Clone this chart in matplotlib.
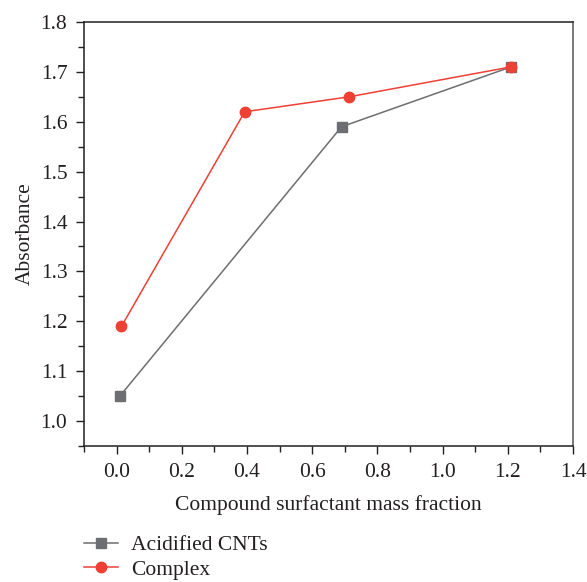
import matplotlib
matplotlib.use("Agg")
import matplotlib.pyplot as plt
from matplotlib.ticker import MultipleLocator

acid_x = [0.01, 0.69, 1.21]
acid_y = [1.05, 1.59, 1.71]
comp_x = [0.015, 0.393, 0.713, 1.21]
comp_y = [1.19, 1.62, 1.65, 1.71]

plt.rcParams['font.family'] = ['Liberation Serif', 'DejaVu Serif']
fs = 15.5

fig = plt.figure(figsize=(5.87, 5.82), dpi=100)
ax = fig.add_axes([84/587, 1-446/582, (573-84)/587, (446-22)/582])

gray = '#6d6e71'
red = '#ee4035'
l1, = ax.plot(acid_x, acid_y, color=gray, marker='s', markersize=6.5, lw=1.1, label='Acidified CNTs')
l2, = ax.plot(comp_x, comp_y, color=red, marker='o', markersize=7.5, lw=1.1, label='Complex')

ax.set_xlim(-0.1, 1.4)
ax.set_ylim(0.95, 1.8)
ax.xaxis.set_minor_locator(MultipleLocator(0.1))
ax.yaxis.set_minor_locator(MultipleLocator(0.05))
ax.set_xticks([0.0, 0.2, 0.4, 0.6, 0.8, 1.0, 1.2, 1.4])
ax.set_xticklabels(['0.0', '0.2', '0.4', '0.6', '0.8', '1.0', '1.2', '1.4'])
ax.set_yticks([1.0, 1.1, 1.2, 1.3, 1.4, 1.5, 1.6, 1.7, 1.8])
ax.set_yticklabels(['1.0', '1.1', '1.2', '1.3', '1.4', '1.5', '1.6', '1.7', '1.8'])
ax.tick_params(which='both', direction='out', top=False, right=False, labelsize=fs,
               color='#231f20', labelcolor='#231f20')
ax.tick_params(which='major', length=6, width=1, pad=6)
ax.tick_params(which='minor', length=4, width=1)
for s in ['left', 'bottom', 'top']:
    ax.spines[s].set_color('#231f20')
    ax.spines[s].set_linewidth(1.1)
ax.spines['right'].set_color('#6d6e71')
ax.spines['right'].set_linewidth(1.3)

ax.set_xlabel('Compound surfactant mass fraction', fontsize=fs, labelpad=10, color='#231f20')
ax.set_ylabel('Absorbance', fontsize=fs, labelpad=4, color='#231f20')

fig.legend(handles=[l1, l2], loc='upper left', bbox_to_anchor=(84/587, 1-535/582),
           frameon=False, fontsize=fs, handlelength=1.6, handletextpad=0.6,
           labelspacing=0.22, borderaxespad=0, borderpad=0, labelcolor='#231f20')

fig.savefig('out.png', dpi=100)
